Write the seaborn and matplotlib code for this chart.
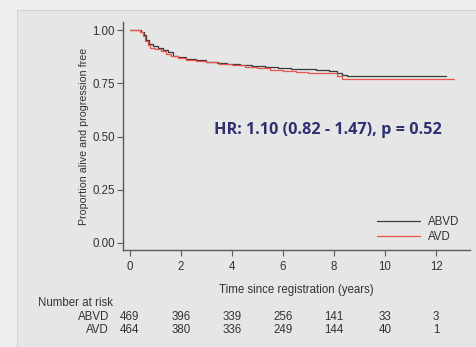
import matplotlib
matplotlib.use("Agg")
import matplotlib.pyplot as plt
import matplotlib.patches as mpatches
import matplotlib.transforms as mtransforms
import seaborn as sns
import pandas as pd

# ---- data ----
abvd_t = [0, 0.45, 0.55, 0.65, 0.75, 0.9, 1.1, 1.3, 1.5, 1.7, 1.9, 2.2, 2.6, 3.0, 3.4, 3.8,
          4.3, 4.8, 5.3, 5.8, 6.3, 6.8, 7.3, 7.8, 8.1, 8.3, 8.5, 12.4]
abvd_s = [1.0, 0.99, 0.975, 0.955, 0.935, 0.925, 0.915, 0.905, 0.895, 0.88, 0.872, 0.865, 0.858,
          0.852, 0.846, 0.84, 0.835, 0.83, 0.826, 0.822, 0.818, 0.815, 0.812, 0.808, 0.80, 0.79,
          0.785, 0.785]
avd_t = [0, 0.4, 0.5, 0.6, 0.7, 0.8, 1.0, 1.2, 1.4, 1.6, 1.9, 2.2, 2.6, 3.0, 3.5, 4.0, 4.5,
         5.0, 5.5, 6.0, 6.5, 7.0, 7.5, 7.9, 8.1, 8.3, 12.7]
avd_s = [1.0, 0.99, 0.97, 0.95, 0.93, 0.918, 0.91, 0.9, 0.888, 0.877, 0.868, 0.86, 0.853, 0.848,
         0.842, 0.835, 0.828, 0.82, 0.812, 0.806, 0.802, 0.80, 0.80, 0.798, 0.785, 0.772, 0.772]

groups = ["ABVD", "AVD"]
risk_times = [0, 2, 4, 6, 8, 10, 12]
risk_abvd = [469, 396, 339, 256, 141, 33, 3]
risk_avd = [464, 380, 336, 249, 144, 40, 1]
y_ticks = [0.0, 0.25, 0.50, 0.75, 1.00]
x_ticks = [0, 2, 4, 6, 8, 10, 12]
hr_text = "HR: 1.10 (0.82 - 1.47), p = 0.52"

df = pd.concat([
    pd.DataFrame({"t": abvd_t, "s": abvd_s, "arm": "ABVD"}),
    pd.DataFrame({"t": avd_t, "s": avd_s, "arm": "AVD"}),
], ignore_index=True)

sns.set_style("white")
plt.rcParams["font.family"] = ["Liberation Sans", "DejaVu Sans"]

FS = 8.3
TXT = "#333333"
bg = "#e6e6e6"
fig = plt.figure(figsize=(4.77, 3.47), dpi=100, facecolor=bg)
# lighter outer strip and frame (slide look)
fig.patches.append(mpatches.Rectangle((0, 0), 17 / 477, 1, transform=fig.transFigure,
                                      facecolor="#eeeeee", edgecolor="none", zorder=0))
fig.patches.append(mpatches.Rectangle((0, 1 - 10 / 347), 1, 10 / 347, transform=fig.transFigure,
                                      facecolor="#eeeeee", edgecolor="none", zorder=0))
fig.lines.append(plt.Line2D([17 / 477, 17 / 477, 1], [0, 1 - 10 / 347, 1 - 10 / 347],
                            transform=fig.transFigure, color="#d2d2d2", lw=0.8))

ax = fig.add_axes([123 / 477, 1 - 250 / 347, (470 - 123) / 477, (250 - 22) / 347])
ax.set_facecolor(bg)

palette = {"ABVD": "#3a3a3a", "AVD": "#e8554c"}
sns.lineplot(data=df, x="t", y="s", hue="arm", hue_order=groups, palette=palette,
             drawstyle="steps-post", lw=0.9, ax=ax, estimator=None, legend=True)

ax.set_xlim(-0.27, 13.33)
ax.set_ylim(-0.033, 1.038)
ax.set_xticks(x_ticks)
ax.set_yticks(y_ticks)
ax.set_yticklabels([f"{v:.2f}" for v in y_ticks])
for s in ["top", "right"]:
    ax.spines[s].set_visible(False)
for s in ["left", "bottom"]:
    ax.spines[s].set_color("#5a5a5a")
    ax.spines[s].set_linewidth(1.0)
ax.tick_params(axis="both", direction="out", length=4, width=0.8, color="#5a5a5a",
               labelsize=FS, labelcolor=TXT, pad=2, left=True, bottom=True)
ax.tick_params(axis="x", pad=4)
ax.set_xlabel("Time since registration (years)", fontsize=FS, color=TXT, labelpad=8)
ax.set_ylabel("Proportion alive and progression free", fontsize=7.7, color=TXT, labelpad=2.5)

leg = ax.legend(loc="upper left", bbox_to_anchor=(0.732, 0.150), frameon=False, fontsize=FS,
                handlelength=3.7, handletextpad=0.7, labelspacing=0.3, borderpad=0,
                borderaxespad=0)
for t in leg.get_texts():
    t.set_color(TXT)

ax.text(7.76, 0.53, hr_text, ha="center", va="center", fontsize=11.7, fontweight="bold",
        color="#2e3170", family=["Open Sans", "DejaVu Sans"])

# Number at risk table
trans = mtransforms.blended_transform_factory(ax.transData, fig.transFigure)
fig.text(38 / 477, 1 - 303 / 347, "Number at risk", fontsize=FS, color=TXT,
         ha="left", va="center")
fig.text(109 / 477, 1 - 317 / 347, groups[0], fontsize=FS, color=TXT, ha="right", va="center")
fig.text(109 / 477, 1 - 330 / 347, groups[1], fontsize=FS, color=TXT, ha="right", va="center")
for tx, a, b in zip(risk_times, risk_abvd, risk_avd):
    ax.text(tx, 1 - 317 / 347, str(a), transform=trans, fontsize=FS, color=TXT,
            ha="center", va="center", clip_on=False)
    ax.text(tx, 1 - 330 / 347, str(b), transform=trans, fontsize=FS, color=TXT,
            ha="center", va="center", clip_on=False)

fig.savefig("out.png", dpi=100, facecolor=bg)
